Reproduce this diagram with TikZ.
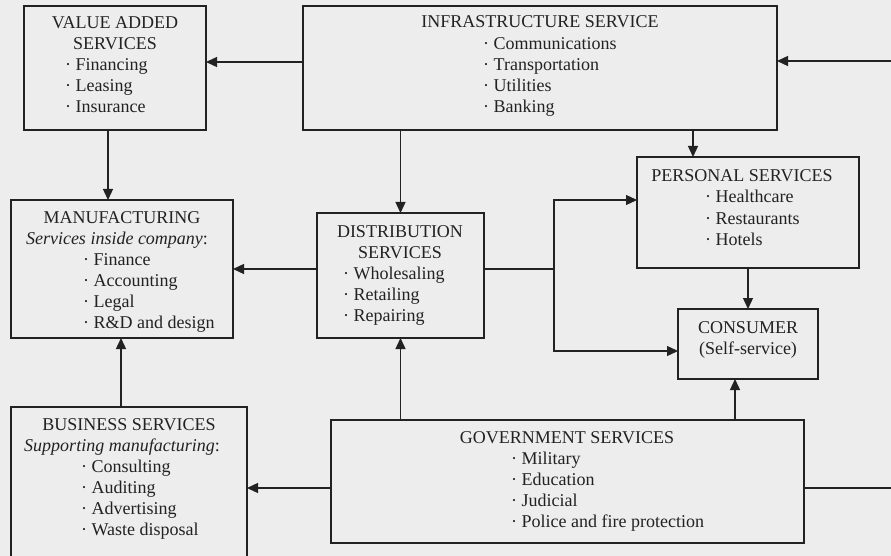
\documentclass[tikz,border=0pt]{standalone}
\usepackage{fontspec}
\setmainfont{Liberation Serif}
\usetikzlibrary{arrows.meta}
\definecolor{bg}{HTML}{EDEDED}
\definecolor{ink}{HTML}{222222}
\tikzset{
  box/.style={draw=ink, line width=1.5pt, fill=bg, anchor=north west, inner sep=0pt, outer sep=0pt, rectangle},
  txt/.style={inner sep=0pt, text=ink, font=\fontsize{18}{21}\selectfont},
  conn/.style={draw=ink, line width=1.3pt},
  arr/.style={conn, -{Triangle[length=11pt,width=10pt]}},
}
\newcommand\txtlines[5]{\foreach \t [count=\i] in {#5}{\node[txt,anchor=#2] (#1\i) at (#3,{#4+21*(\i-1)}) {\t};}}
\newcommand\bulletlines[4]{\foreach \t [count=\i] in {#4}{\node[txt,anchor=base west] (#1\i) at (#2,{#3+21*(\i-1)}) {·\ \t};}}
\begin{document}
\begin{tikzpicture}[x=1pt,y=-1pt]
\clip (0,0) rectangle (891,556);
\fill[bg] (0,0) rectangle (891,556);
% boxes
\node[box, minimum width=182pt, minimum height=124pt] (va) at (24,6) {};
\node[box, minimum width=474pt, minimum height=124pt] (inf) at (303,6) {};
\node[box, minimum width=222pt, minimum height=138pt] (man) at (11,200) {};
\node[box, minimum width=167pt, minimum height=125pt] (dist) at (317,213) {};
\node[box, minimum width=222pt, minimum height=111pt] (pers) at (637,157) {};
\node[box, minimum width=140pt, minimum height=70pt] (cons) at (678,309) {};
\node[box, minimum width=473pt, minimum height=123pt] (gov) at (331,420) {};
\node[box, minimum width=236pt, minimum height=170pt] (bus) at (11,407) {};
% texts
\txtlines{vat}{base}{115}{29}{VALUE ADDED, SERVICES}
\bulletlines{vab}{65}{71}{Financing, Leasing, Insurance}
\txtlines{inft}{base}{540}{28}{INFRASTRUCTURE SERVICE}
\bulletlines{infb}{483}{50}{Communications, Transportation, Utilities, Banking}
\txtlines{mant}{base}{122}{223}{MANUFACTURING}
\node[txt, anchor=base] (mans) at (117,244) {\textit{Services inside company}:};
\bulletlines{manb}{83}{265}{Finance, Accounting, Legal, R\&D and design}
\txtlines{distt}{base}{400}{237}{DISTRIBUTION, SERVICES}
\bulletlines{distb}{343}{279}{Wholesaling, Retailing, Repairing}
\txtlines{perst}{base}{742}{182}{PERSONAL SERVICES}
\bulletlines{persb}{705}{203}{Healthcare, Restaurants, Hotels}
\txtlines{const}{base}{748}{333}{CONSUMER, (Self-service)}
\txtlines{govt}{base}{567}{443}{GOVERNMENT SERVICES}
\bulletlines{govb}{511}{464}{Military, Education, Judicial, Police and fire protection}
\txtlines{bust}{base}{129}{430}{BUSINESS SERVICES}
\node[txt, anchor=base] (buss) at (122,451) {\textit{Supporting manufacturing}:};
\bulletlines{busb}{81}{472}{Consulting, Auditing, Advertising, Waste disposal}
% connectors
\coordinate (rin) at (891,61);
\coordinate (rout) at (891,488);
\coordinate (bx) at (554,269);
\coordinate (bt) at (554,200);
\coordinate (bb) at (554,351);
\draw[arr] ([yshift=6pt]inf.west) -- ([yshift=6pt]va.east);
\draw[arr] (rin) -- (rin -| inf.east);
\draw[arr] (inf.south -| dist.north) -- (dist.north);
\draw[arr] ([xshift=-55pt]pers.north |- inf.south) -- ([xshift=-55pt]pers.north);
\draw[arr] ([xshift=-7pt]va.south) -- ([xshift=-7pt]va.south |- man.north);
\draw[arr] (dist.west |- man.east) -- (man.east);
\draw[conn] (dist.east |- bx) -- (bx);
\draw[arr] (bx) |- (bt -| pers.west);
\draw[arr] (bx) |- (bb -| cons.west);
\draw[arr] (pers.south) -- (cons.north);
\draw[arr] ([xshift=-13pt]cons.south |- gov.north) -- ([xshift=-13pt]cons.south);
\draw[arr] (gov.north -| dist.south) -- (dist.south);
\draw[arr] (rout -| gov.west) -- (rout -| bus.east);
\draw[arr] ([xshift=-8pt]bus.north) -- ([xshift=-8pt]bus.north |- man.south);
\draw[conn] (rout -| gov.east) -- (rout);
\end{tikzpicture}
\end{document}
